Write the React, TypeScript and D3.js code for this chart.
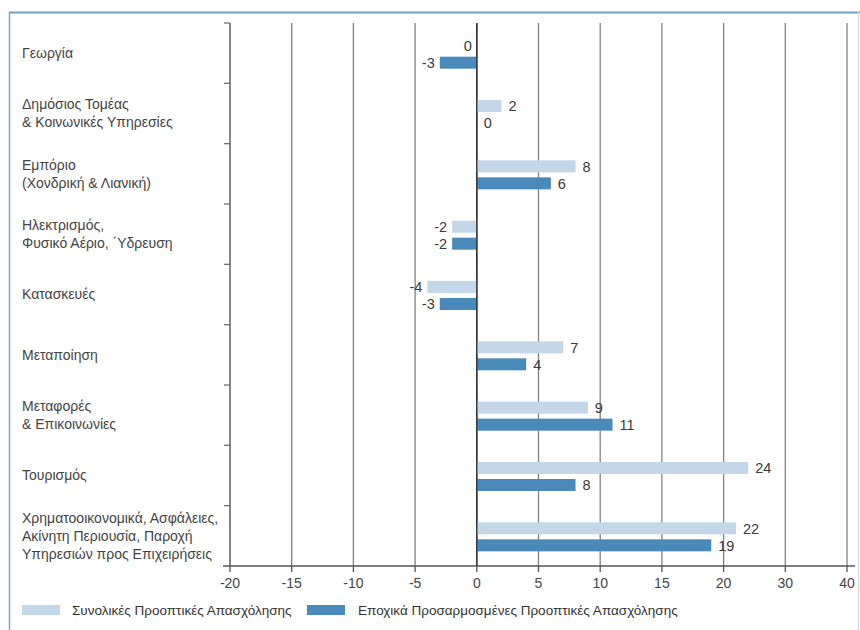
import React from "react";
import * as d3 from "d3";

// Sectors (top to bottom); each label split into display lines
const categories: string[][] = [
  ["Γεωργία"],
  ["Δημόσιος Τομέας", "& Κοινωνικές Υπηρεσίες"],
  ["Εμπόριο", "(Χονδρική & Λιανική)"],
  ["Ηλεκτρισμός,", "Φυσικό Αέριο, ΄Υδρευση"],
  ["Κατασκευές"],
  ["Μεταποίηση"],
  ["Μεταφορές", "& Επικοινωνίες"],
  ["Τουρισμός"],
  ["Χρηματοοικονομικά, Ασφάλειες,", "Ακίνητη Περιουσία, Παροχή", "Υπηρεσιών προς Επιχειρήσεις"],
];

const totalOutlook: number[] = [0, 2, 8, -2, -4, 7, 9, 24, 22];
const seasonalOutlook: number[] = [-3, 0, 6, -2, -3, 4, 11, 8, 19];

const seriesNames: string[] = [
  "Συνολικές Προοπτικές Απασχόλησης",
  "Εποχικά Προσαρμοσμένες Προοπτικές Απασχόλησης",
];

const tickValues: number[] = [-20, -15, -10, -5, 0, 5, 10, 15, 20, 30, 40];

const W = 860;
const H = 630;
const FONT = "'Liberation Sans', Arial, sans-serif";
const LIGHT = "#c4d7e8";
const DARK = "#4a8abb";

export default function App() {
  const plotLeft = 230;
  const plotRight = 847;
  const plotTop = 23;
  const plotBottom = 566;

  // Axis steps are evenly spaced; above 20 each step covers 10 units
  const x = d3
    .scaleLinear()
    .domain([-20, 20, 40])
    .range([plotLeft, plotLeft + ((plotRight - plotLeft) * 8) / 10, plotRight]);

  const y = d3
    .scaleBand<number>()
    .domain(d3.range(categories.length))
    .range([plotTop, plotBottom]);

  const barH = 12;
  const gap = 5;
  const x0 = x(0);

  const valueLabel = (v: number, other: number, yPos: number, key: string) => {
    const left = v < 0 || (v === 0 && other < 0);
    const xp = left ? Math.min(x(v), x0) - 5 : Math.max(x(v), x0) + 7;
    return (
      <text
        key={key}
        x={xp}
        y={yPos + barH / 2}
        dy="0.36em"
        textAnchor={left ? "end" : "start"}
        fontSize={14.5}
        fill="#3a3a3a"
      >
        {v}
      </text>
    );
  };

  return (
    <svg
      width={W}
      height={H}
      style={{ position: "absolute", left: 0, top: 0, background: "#fff" }}
      fontFamily={FONT}
    >
      {/* frame */}
      <line x1={9} x2={860} y1={12.5} y2={12.5} stroke="#6f9fc2" strokeWidth={2} />
      <line x1={9.5} x2={9.5} y1={12} y2={H} stroke="#7aa8c8" strokeWidth={1.5} />
      <line x1={858.5} x2={858.5} y1={12} y2={H} stroke="#cfe0ec" strokeWidth={1.5} />

      {/* vertical gridlines */}
      {tickValues.map((t) => (
        <line
          key={`g${t}`}
          x1={x(t)}
          x2={x(t)}
          y1={plotTop}
          y2={plotBottom}
          stroke={t === 0 ? "#333" : "#808080"}
          strokeWidth={1.3}
        />
      ))}

      {/* left category axis with band separators */}
      <line x1={plotLeft} x2={plotLeft} y1={plotTop} y2={plotBottom} stroke="#707070" strokeWidth={1.3} />
      {d3.range(categories.length).map((i) => (
        <line
          key={`lt${i}`}
          x1={plotLeft - 6}
          x2={plotLeft}
          y1={y(i)!}
          y2={y(i)!}
          stroke="#707070"
          strokeWidth={1.3}
        />
      ))}

      {/* bottom axis */}
      <line x1={plotLeft - 7} x2={plotRight + 8} y1={plotBottom} y2={plotBottom} stroke="#555" strokeWidth={1.3} />
      {tickValues.map((t) => (
        <g key={`t${t}`} transform={`translate(${x(t)},${plotBottom})`}>
          <line y1={0} y2={6} stroke="#555" strokeWidth={1.3} />
          <text y={18} dy="0.32em" textAnchor="middle" fontSize={14} fill="#444">
            {t}
          </text>
        </g>
      ))}

      {/* category labels */}
      {categories.map((lines, i) => {
        const cy = y(i)! + y.bandwidth() / 2;
        const lh = 18;
        const startY = cy - ((lines.length - 1) * lh) / 2;
        return (
          <text key={`c${i}`} x={22} fontSize={14} fill="#444">
            {lines.map((ln, j) => (
              <tspan key={j} x={22} y={startY + j * lh} dy="0.35em">
                {ln}
              </tspan>
            ))}
          </text>
        );
      })}

      {/* bars and value labels */}
      {categories.map((_, i) => {
        const cy = y(i)! + y.bandwidth() / 2;
        const yTop = cy - barH - gap / 2 + 1;
        const yBot = cy + gap / 2 + 1;
        const a = totalOutlook[i];
        const b = seasonalOutlook[i];
        return (
          <g key={`b${i}`}>
            <rect
              x={Math.min(x(a), x0)}
              y={yTop}
              width={Math.abs(x(a) - x0)}
              height={barH}
              fill={LIGHT}
            />
            <rect
              x={Math.min(x(b), x0)}
              y={yBot}
              width={Math.abs(x(b) - x0)}
              height={barH}
              fill={DARK}
            />
            {valueLabel(a, b, yTop, `la${i}`)}
            {valueLabel(b, a, yBot, `lb${i}`)}
          </g>
        );
      })}
      {/* keep zero line above bars */}
      <line x1={x0} x2={x0} y1={plotTop} y2={plotBottom} stroke="#333" strokeWidth={1.3} />

      {/* legend */}
      <g fontSize={13.5} fill="#333">
        <rect x={22} y={605} width={38} height={10} fill={LIGHT} />
        <text x={72} y={610} dy="0.35em">{seriesNames[0]}</text>
        <rect x={307} y={605} width={38} height={10} fill={DARK} />
        <text x={358} y={610} dy="0.35em">{seriesNames[1]}</text>
      </g>
    </svg>
  );
}
